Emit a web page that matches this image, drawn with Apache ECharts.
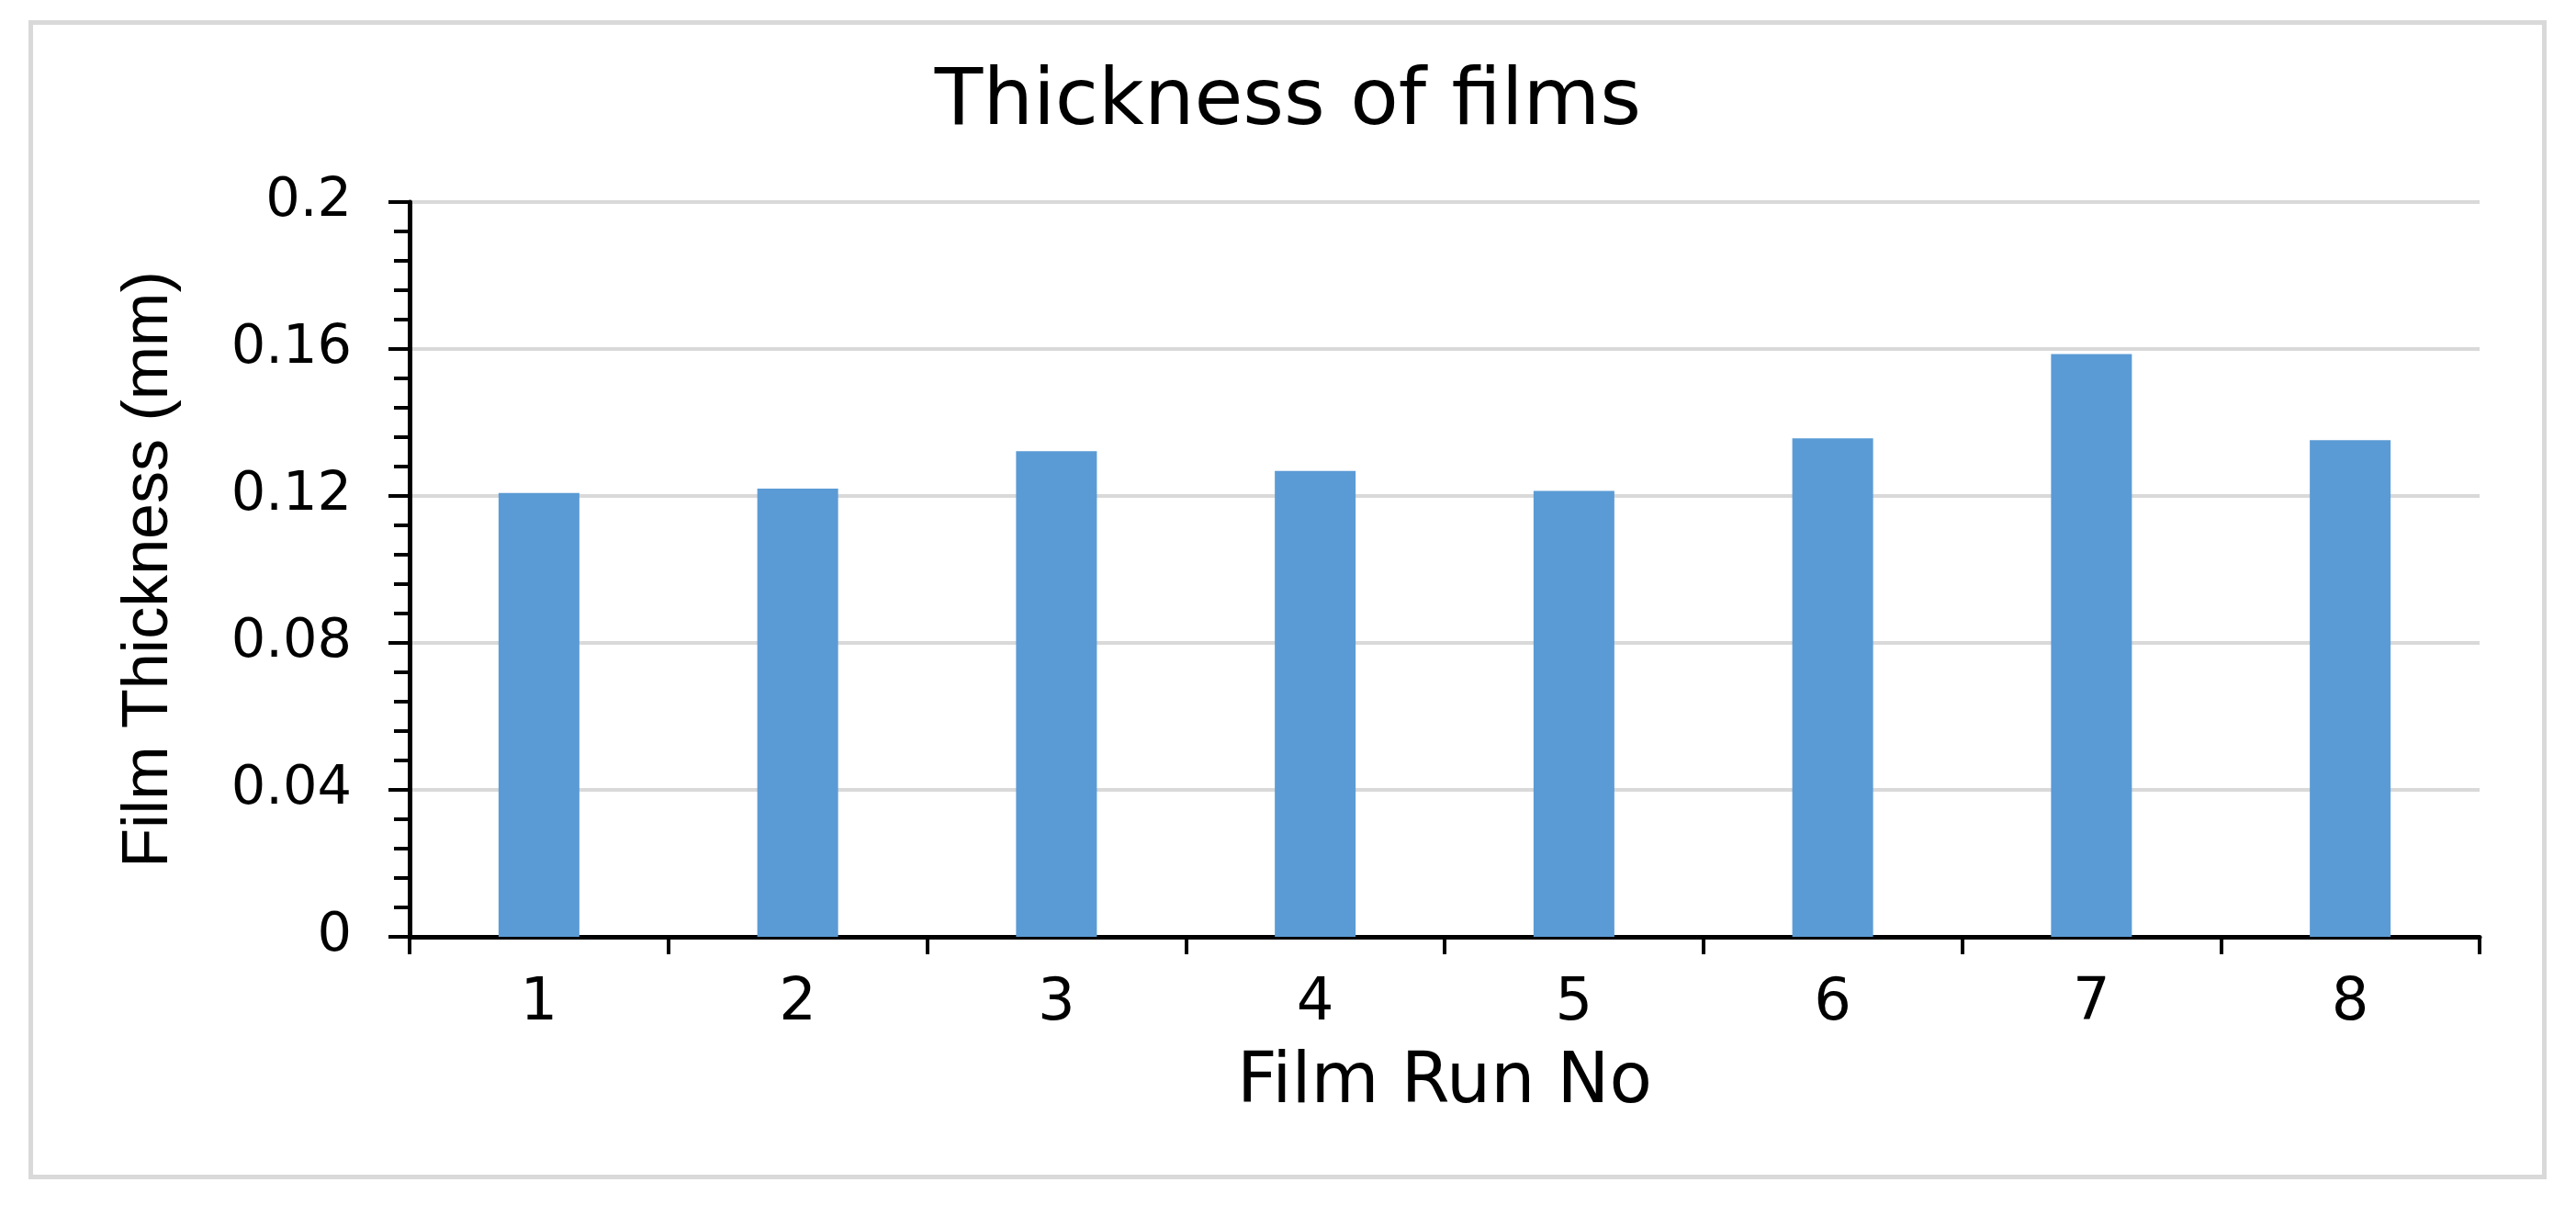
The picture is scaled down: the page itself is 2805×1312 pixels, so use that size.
<!DOCTYPE html>
<html>
<head>
<meta charset="utf-8">
<script src="https://cdn.jsdelivr.net/npm/echarts@6/dist/echarts.min.js"></script>
<style>
html,body{margin:0;padding:0;background:#fff;}
#chart{width:2805px;height:1312px;}
</style>
</head>
<body>
<div id="chart"></div>
<script>
const titleText = 'Thickness of films';
const xAxisTitle = 'Film Run No';
const yAxisTitle = 'Film Thickness (mm)';
const categories = ['1', '2', '3', '4', '5', '6', '7', '8'];
const thickness = [0.1208, 0.1220, 0.1322, 0.1268, 0.1214, 0.1357, 0.1586, 0.1352];
const yMin = 0, yMax = 0.2, yStep = 0.04;

const chart = echarts.init(document.getElementById('chart'));
chart.setOption({
  backgroundColor: '#ffffff',
  animation: false,
  graphic: [{
    type: 'rect',
    shape: { x: 33.5, y: 24.5, width: 2737, height: 1257 },
    style: { fill: null, stroke: '#d9d9d9', lineWidth: 5 },
    silent: true, z: -1
  }],
  title: {
    text: titleText,
    left: 'center',
    top: 65,
    textStyle: { fontFamily: 'DejaVu Sans', fontSize: 86, fontWeight: 'normal', color: '#000' }
  },
  grid: { left: 446, right: 105, top: 220, bottom: 292, containLabel: false },
  xAxis: {
    type: 'category',
    data: categories,
    boundaryGap: true,
    name: xAxisTitle,
    nameLocation: 'middle',
    nameGap: 122,
    nameTextStyle: { fontFamily: 'DejaVu Sans', fontSize: 76, color: '#000' },
    axisLine: { show: true, lineStyle: { color: '#000', width: 5 } },
    axisTick: { show: true, alignWithLabel: false, length: 19, lineStyle: { color: '#000', width: 4 } },
    axisLabel: { margin: 41, fontFamily: 'DejaVu Sans', fontSize: 64, color: '#000' },
    splitLine: { show: false }
  },
  yAxis: {
    type: 'value',
    min: yMin, max: yMax, interval: yStep,
    name: yAxisTitle,
    nameLocation: 'middle',
    nameRotate: 90,
    nameGap: 248,
    nameTextStyle: { fontFamily: 'Liberation Sans', fontSize: 70, color: '#000' },
    axisLine: { show: true, lineStyle: { color: '#000', width: 5 } },
    axisTick: { show: true, length: 23, lineStyle: { color: '#000', width: 4 } },
    minorTick: { show: true, splitNumber: 5, length: 17, lineStyle: { color: '#000', width: 4 } },
    axisLabel: { margin: 63, fontFamily: 'DejaVu Sans', fontSize: 59, color: '#000' },
    splitLine: { show: true, lineStyle: { color: '#d9d9d9', width: 4 } }
  },
  series: [{
    type: 'bar',
    data: thickness,
    barWidth: 88,
    itemStyle: { color: '#5b9bd5' }
  }]
});
</script>
</body>
</html>
